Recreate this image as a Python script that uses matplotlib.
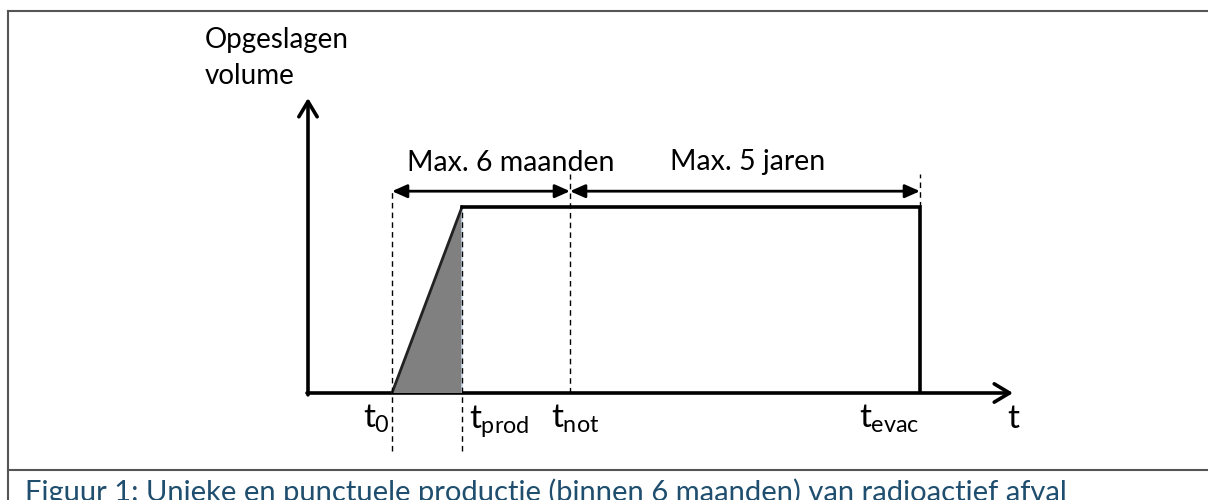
import matplotlib.pyplot as plt
from matplotlib.patches import FancyArrowPatch, Polygon
from matplotlib.lines import Line2D

plt.rcParams['font.family'] = ['Lato', 'DejaVu Sans']
plt.rcParams['mathtext.fontset'] = 'custom'
plt.rcParams['mathtext.rm'] = 'Lato'
plt.rcParams['mathtext.it'] = 'Lato'

# time markers (arbitrary units, not to scale)
t_names = ['0', 'prod', 'not', 'evac']
t_vals = [0.84, 1.54, 2.62, 6.12]
t_end = 7.05
v_level = 1.0          # stored volume after production
v_top = 1.586
dash_tops = [1.09, 1.0, 1.18, 1.18]
dash_bottoms = [-0.31, -0.31, 0.0, 1.0]
span_labels = ['Max. 6 maanden', 'Max. 5 jaren']
span_label_x = [2.03, 4.40]
span_y = 1.085
caption = 'Figuur 1: Unieke en punctuele productie (binnen 6 maanden) van radioactief afval'

t0, tprod, tnot, tevac = t_vals

fig = plt.figure(figsize=(12.08, 5.0), dpi=100)
ax = fig.add_axes([308 / 1208, 107 / 500, 705 / 1208, 295 / 500])
ax.set_xlim(0, t_end)
ax.set_ylim(0, v_top)
ax.axis('off')

# frame around figure + caption separator
for xs, ys in [([8, 1208], [489, 489]), ([8, 8], [0, 489]), ([8, 1208], [30, 30])]:
    fig.add_artist(Line2D([x / 1208 for x in xs], [y / 500 for y in ys],
                          transform=fig.transFigure, color='#555555', lw=1.5))

# axes arrows
ax.add_patch(FancyArrowPatch((0, -0.01), (0, v_top), arrowstyle='->,head_length=0.55,head_width=0.33',
                             mutation_scale=20, lw=2.6, color='black', shrinkA=0, shrinkB=0,
                             clip_on=False))
ax.add_patch(FancyArrowPatch((-0.01, 0), (t_end, 0), arrowstyle='->,head_length=0.55,head_width=0.33',
                             mutation_scale=20, lw=2.6, color='black', shrinkA=0, shrinkB=0,
                             clip_on=False))

# production ramp (shaded)
ax.add_patch(Polygon([(t0, 0), (tprod, v_level), (tprod, 0)], closed=True,
                     facecolor='#808080', edgecolor='none'))
ax.plot([tprod, tprod], [0, v_level], color='#c8d6ea', lw=1.2)
ax.plot([t0, tprod], [0, v_level], color='#222222', lw=2)

# storage plateau
ax.plot([tprod, tevac, tevac], [v_level, v_level, 0], color='black', lw=2.6,
        solid_joinstyle='miter')

# dashed markers
for tv, bot, top in zip(t_vals, dash_bottoms, dash_tops):
    ax.plot([tv, tv], [bot, top], color='black', lw=1, ls=(0, (4, 3)), clip_on=False)

# duration arrows
for a, b in [(t0, tnot), (tnot, tevac)]:
    ax.add_patch(FancyArrowPatch((a, span_y), (b, span_y),
                                 arrowstyle='<|-|>,head_length=0.45,head_width=0.2',
                                 mutation_scale=20, lw=2, color='black',
                                 shrinkA=0, shrinkB=0, clip_on=False))
ax.text(span_label_x[0], 1.237, span_labels[0], ha='center', va='center', fontsize=20.5)
ax.text(span_label_x[1], 1.242, span_labels[1], ha='center', va='center', fontsize=20.5)

# time labels
lab_y = -0.188
ax.text(t0 - 0.02, lab_y, r'$t_{%s}$' % t_names[0], ha='right', va='baseline', fontsize=24)
ax.text(tprod + 0.07, lab_y, r'$t_{%s}$' % t_names[1], ha='left', va='baseline', fontsize=24)
ax.text(tnot - 0.19, lab_y, r'$t_{%s}$' % t_names[2], ha='left', va='baseline', fontsize=24)
ax.text(tevac, lab_y, r'$t_{%s}$' % t_names[3], ha='right', va='baseline', fontsize=24)
ax.text(t_end, lab_y, 't', ha='center', va='baseline', fontsize=24)

# y label
ax.text(-1.03, 1.97, 'Opgeslagen\nvolume', ha='left', va='top', fontsize=20, linespacing=1.5)

fig.text(25 / 1208, 1 - 478 / 500, caption, ha='left', va='top', fontsize=21, color='#1f4e6e')

plt.savefig('out.png', dpi=100)
plt.close()
